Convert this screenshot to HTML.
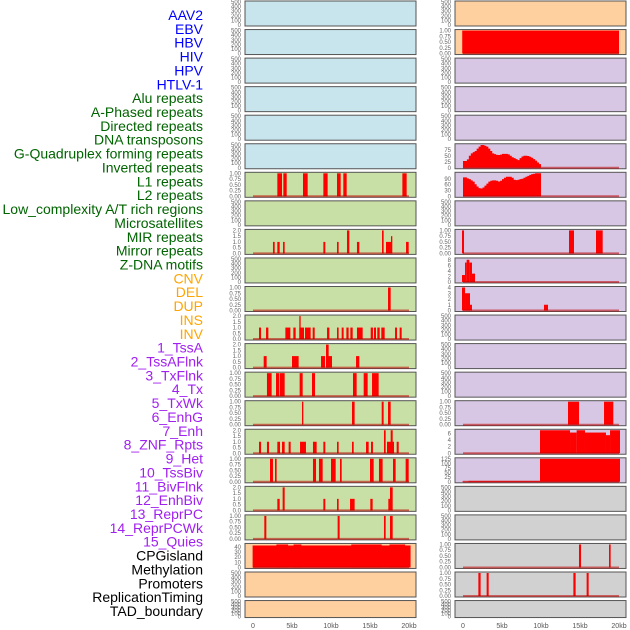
<!DOCTYPE html>
<html><head><meta charset="utf-8">
<style>
body{margin:0;background:#fff;width:630px;height:630px;overflow:hidden;font-family:"Liberation Sans",sans-serif}
svg{display:block}
</style></head>
<body>
<svg id="chart" width="630" height="630" viewBox="0 0 630 630"></svg>
<script>
const trackLabels=["AAV2","EBV","HBV","HIV","HPV","HTLV-1","Alu repeats","A-Phased repeats","Directed repeats","DNA transposons","G-Quadruplex forming repeats","Inverted repeats","L1 repeats","L2 repeats","Low_complexity A/T rich regions","Microsatellites","MIR repeats","Mirror repeats","Z-DNA motifs","CNV","DEL","DUP","INS","INV","1_TssA","2_TssAFlnk","3_TxFlnk","4_Tx","5_TxWk","6_EnhG","7_Enh","8_ZNF_Rpts","9_Het","10_TssBiv","11_BivFlnk","12_EnhBiv","13_ReprPC","14_ReprPCWk","15_Quies","CPGisland","Methylation","Promoters","ReplicationTiming","TAD_boundary"];
const labelGroups=[6,13,5,15,5];
const groupColors=["#0000ff","#006400","#ffa500","#a020f0","#000000"];
const xTicks=[0,5,10,15,20];
const xTickLabels=["0","5kb","10kb","15kb","20kb"];
const leftBg=["b","b","b","b","b","b","g","g","g","g","g","g","g","g","g","g","g","g","g","o","o","o"];
const rightBg=["o","o","p","p","p","p","p","p","p","p","p","p","p","p","p","p","p","y","y","y","y","y"];
const leftYmax=[500,500,500,500,500,500,1,500,2,500,1,2,2,1,1,2,1,2,1,45,500,500];
const rightYmax=[500,1,500,500,500,96,118,500,1,8.3,4,500,500,500,1,7,125,500,500,1,1,500];
const leftSegs={
6:[[3.12,3.72,1],[3.89,4.32,1],[6.41,7.01,1],[9.02,9.57,1],[10.77,11.24,1],[11.58,12.01,1],[19.15,19.7,1]],
8:[[2.56,2.78,1],[3.12,3.42,1],[3.85,4.06,1],[9.02,9.27,1],[10.77,10.98,1],[12.05,12.35,2],[13.33,13.63,1],[16.54,16.75,2],[17.05,17.69,1],[17.69,17.86,1.5],[19.62,19.96,1]],
10:[[17.31,17.65,1]],
11:[[0.77,1.03,1],[1.67,1.97,1],[4.15,4.79,1],[5.17,5.47,1],[5.94,6.54,1],[5.94,6.11,2],[6.67,7.39,1],[7.65,7.91,1],[9.49,9.79,1],[10.77,10.98,1],[11.37,11.62,1],[11.97,12.26,1],[12.48,12.78,1],[13.33,14.06,1],[15.09,15.38,1],[15.51,15.77,1],[15.94,16.24,1],[16.45,16.88,1],[18.21,18.46,1],[18.8,19.06,1]],
12:[[1.37,1.75,1],[5.0,5.85,1],[8.72,9.23,1],[9.36,10.13,1],[9.36,9.7,2],[13.21,13.63,1]],
13:[[1.79,2.39,1],[2.95,3.38,1],[3.46,4.06,1],[5.98,6.37,1],[7.56,7.95,1],[12.82,13.29,1],[14.19,14.7,1],[15.26,16.11,1]],
14:[[6.28,6.45,1],[12.69,13.03,1],[16.5,16.75,1],[17.31,17.65,1]],
15:[[0.77,1.03,1],[1.79,2.05,1],[3.12,3.46,1],[3.72,4.06,1],[4.57,4.83,1],[6.03,6.79,1],[7.69,8.16,1],[9.02,9.27,1],[10.77,10.98,1],[12.69,12.91,1],[14.49,14.83,1],[15.13,15.38,1],[16.79,17.01,2],[17.18,18.08,1],[17.65,17.91,2],[18.42,18.68,1]],
16:[[2.18,2.56,1],[2.82,3.03,1],[7.69,8.08,1],[8.46,8.93,1],[10.0,10.6,1],[11.15,11.37,1],[15.0,15.47,1],[16.15,16.62,1],[17.95,18.29,1],[19.57,19.96,1]],
17:[[3.12,3.42,1],[3.8,4.06,2],[9.02,9.27,1],[10.77,10.98,1],[12.44,13.03,1],[15.04,15.34,1],[17.35,17.56,1],[17.56,17.91,2]],
18:[[1.45,1.71,1],[10.85,11.11,1],[16.79,17.01,1],[17.56,17.91,1]],
19:[[-0.05,20.2,43],[3.0,4.5,45],[5.2,6.2,45],[12.6,16.5,45],[17.5,19.5,45]]
};
const g4Values=[28,28,35,50,60,65,70,80,88,95,95,92,88,80,70,60,57,54,53,55,58,58,58,56,50,44,40,36,32,40,47,50,50,49,46,42,36,30,22,15];
const zdnaValues=[97,97,92,88,82,75,62,50,42,40,45,55,65,75,80,82,82,80,76,80,88,95,100,100,100,95,85,83,85,88,90,95,100,105,110,114,116,118,118,118];
const rightSegs={
1:[[-0.1,20,1]],
8:[[-0.13,0.13,1],[13.59,14.23,1],[17.05,17.91,1]],
9:[[-0.13,0.26,2.5],[0.26,0.47,7],[0.47,0.81,8],[0.81,1.15,7],[1.15,1.54,3]],
10:[[-0.13,0.26,4],[0.26,0.9,3],[0.9,1.15,1],[10.38,10.9,1]],
14:[[13.46,14.87,1],[18.08,19.27,1]],
15:[[9.87,13.72,7],[13.72,14.57,6.3],[14.57,15.64,7],[15.64,18.33,6.3],[18.33,18.85,5.5],[18.85,20.13,7]],
16:[[-0.13,0.7,2],[0.7,9.87,5],[9.87,20.13,125]],
19:[[14.87,15.13,1],[18.72,18.93,1]],
20:[[1.97,2.26,1],[3.03,3.29,1],[14.15,14.44,1],[15.85,16.11,1]]
};
const rightAreas={5:g4Values,6:zdnaValues};
const tickSets={500:[0,100,200,300,400,500],1:[0,0.25,0.5,0.75,1],2:[0,0.5,1,1.5,2],45:[0,10,20,30,40],96:[0,25,50,75],118:[0,30,60,90],8.3:[0,2,4,6,8],4:[0,1,2,3,4],7:[0,2,4,6],125:[0,25,50,75,100,125]};

const bgColors={b:"#c8e4ec",g:"#c8e0a5",o:"#fecf9f",p:"#d7c7e4",y:"#d1d1d1"};
const NS="http://www.w3.org/2000/svg";
const svg=document.getElementById("chart");
function mk(tag,attrs,parent){const e=document.createElementNS(NS,tag);for(const k in attrs)e.setAttribute(k,attrs[k]);(parent||svg).appendChild(e);return e;}

let gi=0,cnt=0;
trackLabels.forEach((t,i)=>{
  if(cnt>=labelGroups[gi]){gi++;cnt=0;}
  cnt++;
  const y=15+i*(596/43);
  const el=mk("text",{x:203,y:y+5,"text-anchor":"end","font-size":"14",fill:groupColors[gi]});
  
  
  el.textContent=t;
});

function fmt(v,ymax){if(ymax===1)return v.toFixed(2);if(ymax===2)return v.toFixed(1);return String(v);}

function drawPanel(col,row,bg,ymax,segs,area){
  const px0=col===0?245:455, pw=171;
  const x0=col===0?253:463;
  const xs=kb=>x0+kb*7.8;
  const top=1+row*28.55, h=row===21?17:25;
  const bottom=top+h;
  const ys=v=>bottom-1-v/ymax*(h-2);
  const g=mk("g",{});
  
  
  const r=mk("rect",{x:px0,y:top,width:pw,height:h,fill:bgColors[bg],stroke:"#555","stroke-width":1},g);
  
  
  const ticks=tickSets[ymax]||[0,ymax];
  ticks.forEach(tv=>{
    const t=mk("text",{x:px0-4,y:ys(tv)+2,"text-anchor":"end","font-size":"6",fill:"#666"},g);
    
    
    t.textContent=fmt(tv,ymax);
  });
  const hasData=(segs&&segs.length)||area;
  if(area){
    let d="M"+xs(0)+","+ys(0);
    area.forEach((v,i)=>{d+=" L"+xs(i*0.25)+","+ys(v)+" L"+xs((i+1)*0.25)+","+ys(v);});
    d+=" L"+xs(area.length*0.25)+","+ys(0)+" Z";
    const p=mk("path",{d:d,fill:"#ff0000"},g);
    
    
  }
  if(segs){segs.forEach(s=>{
    const b=mk("rect",{x:xs(s[0]),y:ys(s[2]),width:Math.max(1,xs(s[1])-xs(s[0])),height:ys(0)-ys(s[2]),fill:"#ff0000"},g);
    
    
  });}
  if(hasData){
    const l=mk("line",{x1:xs(0),x2:xs(20),y1:ys(0),y2:ys(0),stroke:"rgba(190,0,0,0.55)","stroke-width":2},g);
    
    
  }
}
for(let r=0;r<22;r++){
  drawPanel(0,r,leftBg[r],leftYmax[r],leftSegs[r],null);
  drawPanel(1,r,rightBg[r],rightYmax[r],rightSegs[r],rightAreas[r]);
}
[0,1].forEach(col=>{
  const x0=col===0?253:463;
  xTicks.forEach((k,i)=>{
    const t=mk("text",{x:x0+k*7.8,y:628,"text-anchor":"middle","font-size":"7",fill:"#555"});
    
    
    t.textContent=xTickLabels[i];
  });
});
</script>
</body></html>
